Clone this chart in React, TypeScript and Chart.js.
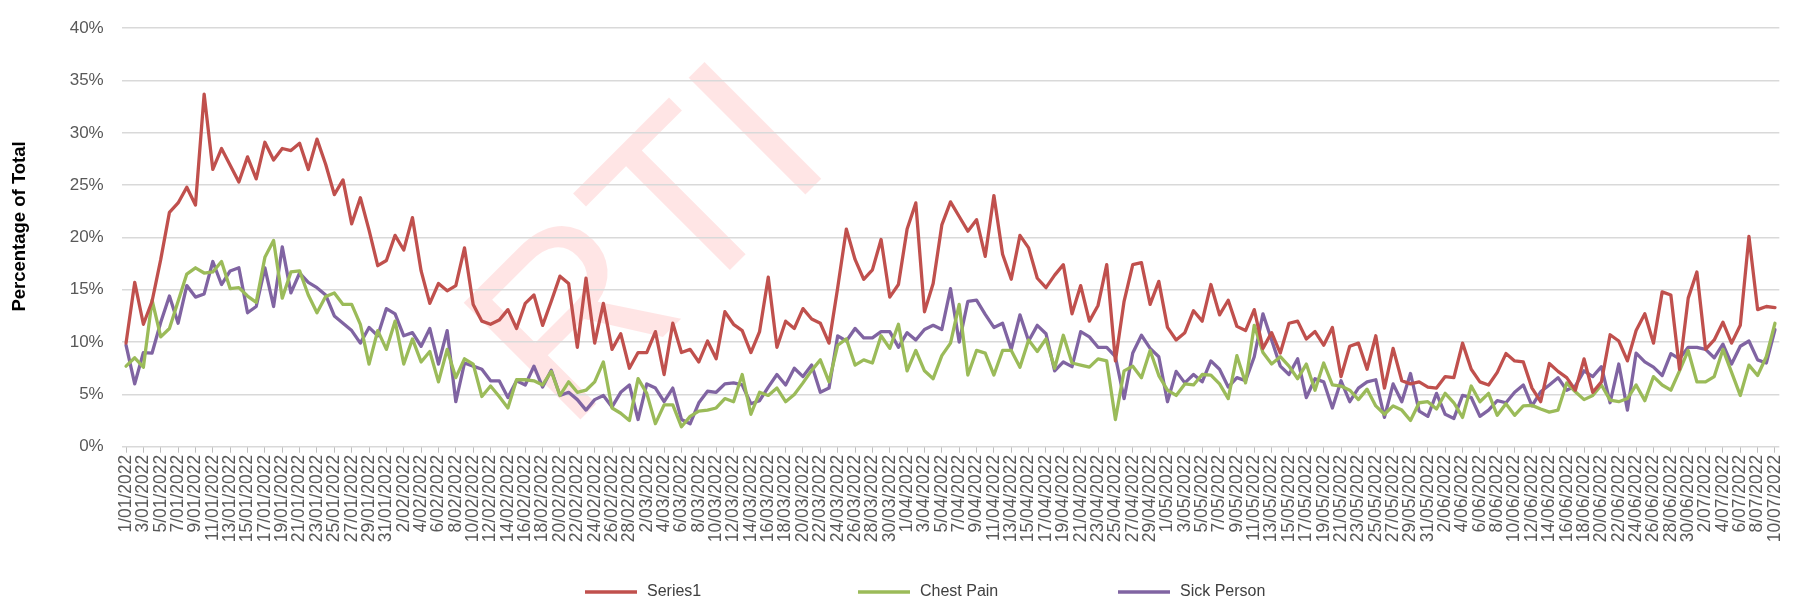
import React, { useEffect, useRef } from 'react';
import { Chart, registerables } from 'chart.js';

Chart.register(...registerables);

const monthDays = [31, 28, 31, 30, 31, 30, 10];
const dateLabels: string[] = [];
monthDays.forEach((n, m) => {
  for (let d = 1; d <= n; d++) dateLabels.push(`${d}/${String(m + 1).padStart(2, '0')}/2022`);
});

const series1 = [
  9.9, 15.7, 11.7, 13.9, 17.9, 22.4, 23.3, 24.8, 23.1, 33.7,
  26.5, 28.5, 26.9, 25.3, 27.7, 25.6, 29.1, 27.4, 28.5, 28.3,
  29.0, 26.5, 29.4, 27.0, 24.1, 25.5, 21.3, 23.8, 20.7, 17.3,
  17.8, 20.2, 18.8, 21.9, 16.8, 13.7, 15.6, 14.9, 15.4, 19.0,
  13.6, 12.0, 11.7, 12.1, 13.1, 11.3, 13.7, 14.5, 11.6, 13.9,
  16.3, 15.6, 9.5, 16.1, 9.9, 13.7, 9.3, 10.8, 7.5, 9.0,
  9.0, 11.0, 6.9, 11.8, 9.0, 9.3, 8.1, 10.1, 8.4, 12.9,
  11.7, 11.1, 9.0, 11.0, 16.2, 9.5, 12.0, 11.3, 13.2, 12.2,
  11.8, 9.9, 15.2, 20.8, 17.9, 16.0, 16.9, 19.8, 14.3, 15.5,
  20.8, 23.3, 12.9, 15.6, 21.2, 23.4, 22.0, 20.6, 21.7, 18.2,
  24.0, 18.4, 16.0, 20.2, 19.0, 16.1, 15.2, 16.4, 17.4, 12.7,
  15.4, 12.0, 13.5, 17.4, 8.2, 13.9, 17.4, 17.6, 13.6, 15.8,
  11.4, 10.2, 10.9, 13.0, 12.0, 15.5, 12.6, 14.0, 11.5, 11.1,
  13.1, 9.4, 10.9, 8.95, 11.8, 12.0, 10.3, 11.0, 9.7, 11.4,
  6.7, 9.6, 9.9, 7.4, 10.6, 5.6, 9.4, 6.3, 6.0, 6.2,
  5.7, 5.6, 6.7, 6.6, 9.9, 7.4, 6.2, 5.9, 7.1, 8.9,
  8.2, 8.1, 5.6, 4.3, 7.95, 7.2, 6.6, 5.4, 8.4, 5.2,
  6.2, 10.7, 10.1, 8.2, 11.1, 12.7, 9.9, 14.8, 14.5, 7.4,
  14.2, 16.7, 9.3, 10.2, 11.9, 9.9, 11.6, 20.1, 13.1, 13.4,
  13.3,
];

const chestPain = [
  7.7, 8.5, 7.6, 14.0, 10.5, 11.3, 13.9, 16.5, 17.1, 16.6,
  16.7, 17.7, 15.1, 15.2, 14.4, 13.8, 18.1, 19.7, 14.2, 16.7,
  16.8, 14.5, 12.8, 14.35, 14.7, 13.6, 13.6, 11.7, 7.9, 11.1,
  9.3, 12.0, 7.9, 10.3, 8.1, 9.1, 6.2, 9.3, 6.6, 8.4,
  7.9, 4.8, 5.8, 4.8, 3.7, 6.4, 6.4, 6.3, 5.9, 7.2,
  4.9, 6.2, 5.2, 5.4, 6.2, 8.1, 3.7, 3.2, 2.5, 6.5,
  5.1, 2.2, 4.0, 4.0, 1.9, 2.9, 3.4, 3.5, 3.7, 4.6,
  4.3, 6.9, 3.1, 5.2, 4.9, 5.6, 4.3, 5.0, 6.1, 7.3,
  8.3, 6.2, 9.7, 10.3, 7.8, 8.3, 8.0, 10.6, 9.4, 11.7,
  7.25, 9.2, 7.25, 6.5, 8.7, 9.9, 13.6, 6.85, 9.2, 8.95,
  6.85, 9.2, 9.2, 7.6, 10.2, 9.1, 10.3, 7.5, 10.65, 8.0,
  7.8, 7.6, 8.4, 8.2, 2.6, 7.25, 7.7, 6.6, 9.2, 6.8,
  5.4, 4.9, 6.0, 5.9, 6.9, 6.85, 6.0, 4.6, 8.7, 6.1,
  11.6, 9.0, 7.9, 8.6, 7.7, 6.5, 7.9, 5.4, 8.0, 5.9,
  5.8, 5.4, 4.5, 5.5, 3.9, 3.1, 3.9, 3.5, 2.5, 4.2,
  4.3, 3.6, 5.1, 4.2, 2.8, 5.8, 4.3, 5.1, 3.0, 4.1,
  3.0, 3.9, 3.95, 3.6, 3.3, 3.5, 6.1, 5.25, 4.5, 4.9,
  5.9, 4.45, 4.3, 4.6, 5.9, 4.4, 6.7, 5.9, 5.4, 7.25,
  9.2, 6.2, 6.2, 6.7, 9.3, 7.1, 4.9, 7.8, 6.8, 8.6,
  11.8,
];

const sickPerson = [
  9.7, 6.0, 9.0, 8.95, 11.9, 14.4, 11.8, 15.4, 14.3, 14.6,
  17.7, 15.5, 16.8, 17.1, 12.8, 13.4, 17.1, 13.4, 19.1, 14.7,
  16.6, 15.7, 15.2, 14.5, 12.5, 11.8, 11.1, 9.9, 11.4, 10.6,
  13.2, 12.7, 10.6, 10.9, 9.6, 11.3, 7.9, 11.1, 4.3, 8.0,
  7.7, 7.4, 6.3, 6.3, 4.7, 6.3, 5.9, 7.7, 5.7, 7.3,
  4.9, 5.2, 4.5, 3.5, 4.5, 4.9, 3.8, 5.2, 5.9, 2.6,
  6.0, 5.6, 4.3, 5.6, 2.6, 2.2, 4.2, 5.3, 5.2, 6.0,
  6.1, 5.9, 4.1, 4.4, 5.7, 6.9, 5.9, 7.5, 6.7, 7.8,
  5.2, 5.6, 10.6, 10.1, 11.3, 10.4, 10.4, 11.0, 11.0, 9.5,
  10.9, 10.2, 11.2, 11.6, 11.2, 15.1, 10.0, 13.9, 14.0, 12.65,
  11.4, 11.8, 9.3, 12.6, 10.1, 11.6, 10.8, 7.25, 8.1, 7.65,
  11.0, 10.5, 9.5, 9.5, 8.6, 4.6, 8.95, 10.65, 9.4, 8.6,
  4.3, 7.2, 6.1, 6.9, 6.2, 8.2, 7.4, 5.7, 6.6, 6.3,
  8.6, 12.7, 10.2, 7.7, 6.9, 8.4, 4.7, 6.5, 6.2, 3.7,
  6.3, 4.3, 5.6, 6.2, 6.4, 2.8, 6.0, 4.3, 7.0, 3.4,
  2.9, 5.1, 3.1, 2.7, 4.9, 4.7, 2.9, 3.5, 4.4, 4.2,
  5.2, 5.9, 3.9, 5.25, 5.9, 6.6, 5.4, 5.8, 7.25, 6.7,
  7.65, 4.2, 7.9, 3.5, 8.95, 8.1, 7.6, 6.8, 8.9, 8.4,
  9.5, 9.5, 9.3, 8.5, 9.8, 7.9, 9.6, 10.1, 8.3, 8.0,
  11.2,
];

const seriesNames = ['Series1', 'Chest Pain', 'Sick Person'];
const seriesColors = ['#C0504D', '#9BBB59', '#8064A2'];
const yAxisTitle = 'Percentage of Total';
const watermarkText = 'PARTIAL';

const FONT = '"Liberation Sans", Arial, sans-serif';

export default function App() {
  const ref = useRef<HTMLCanvasElement>(null);

  useEffect(() => {
    document.body.style.margin = '0';
    const canvas = ref.current;
    if (!canvas) return;

    const watermark = {
      id: 'watermark',
      beforeDraw(chart: any) {
        const c = chart.ctx;
        c.save();
        c.font = `240px ${FONT}`;
        const pre = c.measureText(watermarkText.slice(0, 2)).width;
        const upto = c.measureText(watermarkText.slice(0, 5)).width;
        const u = Math.SQRT1_2;
        // start of the visible part of the mark, on its baseline
        const rx = 566.6;
        const ry = 433.4;
        c.translate(rx - pre * u, ry + pre * u);
        c.rotate(-Math.PI / 4);
        // only the part of the mark that shows in the reference
        c.beginPath();
        c.rect(pre, -400, upto - pre, 460);
        c.clip();
        c.fillStyle = 'rgba(255, 0, 0, 0.1)';
        c.textBaseline = 'alphabetic';
        c.fillText(watermarkText, 0, 0);
        c.restore();
      },
    };

    const overlay = {
      id: 'overlay',
      afterDraw(chart: any) {
        const c = chart.ctx;
        const area = chart.chartArea;
        c.save();
        // y axis title
        c.translate(20, (area.top + area.bottom) / 2 - 11);
        c.rotate(-Math.PI / 2);
        c.fillStyle = '#000000';
        c.font = `bold 18.5px ${FONT}`;
        c.textAlign = 'center';
        c.textBaseline = 'middle';
        c.fillText(yAxisTitle, 0, 0);
        c.restore();

        // legend
        const starts = [585, 858, 1118];
        const y = 592;
        c.save();
        chart.data.datasets.forEach((ds: any, i: number) => {
          const x = starts[i];
          c.strokeStyle = ds.borderColor;
          c.lineWidth = 3.5;
          c.lineCap = 'butt';
          c.beginPath();
          c.moveTo(x, y);
          c.lineTo(x + 52, y);
          c.stroke();
          c.fillStyle = '#404040';
          c.font = `16px ${FONT}`;
          c.textBaseline = 'middle';
          c.textAlign = 'left';
          c.fillText(ds.label, x + 62, y);
        });
        c.restore();
      },
    };

    const makeDs = (label: string, data: number[], color: string) => ({
      label,
      data,
      borderColor: color,
      backgroundColor: color,
      borderWidth: 3.3,
      pointRadius: 0,
      tension: 0,
      borderJoinStyle: 'round' as const,
      borderCapStyle: 'round' as const,
      fill: false,
    });

    const chart = new Chart(canvas, {
      type: 'line',
      data: {
        labels: dateLabels,
        datasets: [
          makeDs(seriesNames[0], series1, seriesColors[0]),
          makeDs(seriesNames[1], chestPain, seriesColors[1]),
          makeDs(seriesNames[2], sickPerson, seriesColors[2]),
        ],
      },
      options: {
        responsive: false,
        animation: false,
        events: [],
        layout: { padding: { top: 15.3, right: 4.7, left: 0, bottom: 40 } },
        plugins: {
          legend: { display: false },
          tooltip: { enabled: false },
        },
        scales: {
          x: {
            type: 'category',
            offset: true,
            grid: {
              drawOnChartArea: false,
              drawTicks: true,
              tickLength: 6,
              color: '#bfbfbf',
              lineWidth: 1,
            },
            border: { display: false },
            ticks: {
              autoSkip: false,
              maxRotation: 90,
              minRotation: 90,
              padding: 2,
              color: '#595959',
              font: { family: FONT, size: 17.5 },
              callback: (_v: any, idx: number) => (idx % 2 === 0 ? dateLabels[idx] : null),
            },
            afterFit: (scale: any) => {
              scale.height = 603 - 446.7 - 40;
            },
          },
          y: {
            min: 0,
            max: 40,
            ticks: {
              stepSize: 5,
              padding: 18,
              color: '#595959',
              font: { family: FONT, size: 17 },
              callback: (v: any) => `${v}%`,
            },
            grid: { color: '#d9d9d9', lineWidth: 1.5, drawTicks: false },
            border: { display: false },
            title: { display: false },
            afterFit: (scale: any) => {
              scale.width = 121.7;
            },
          },
        },
      },
      plugins: [watermark, overlay],
    });

    return () => chart.destroy();
  }, []);

  return (
    <div style={{ width: 1798, height: 603, background: '#ffffff' }}>
      <canvas ref={ref} width={1798} height={603} style={{ display: 'block' }} />
    </div>
  );
}
